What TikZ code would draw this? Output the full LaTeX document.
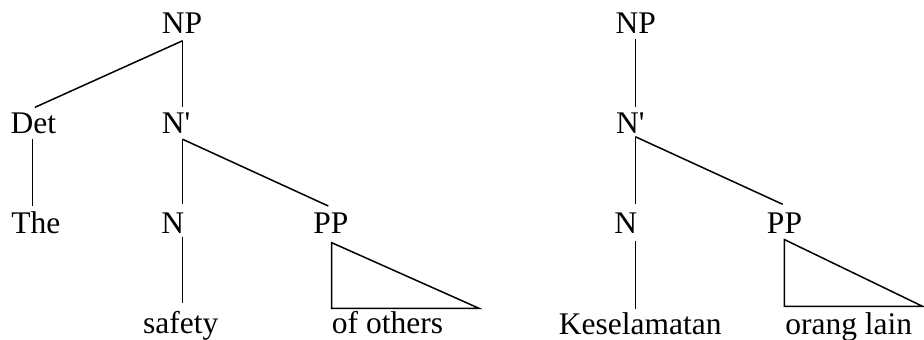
\documentclass[tikz,border=0pt]{standalone}
\usepackage{fontspec}
\setmainfont{Liberation Serif}
\begin{document}
\begin{tikzpicture}[x=1pt,y=-1pt,
  lbl/.style={anchor=base, inner sep=0pt, font=\fontsize{31.5}{36}\selectfont},
  br/.style={line width=1.5pt, line join=miter}]
\useasboundingbox (0,0) rectangle (924,340);
% ---------- left tree ----------
\node[lbl] (lnp)  at (182,33.3)   {NP};
\node[lbl] (ldet) at (33.3,133.3) {Det};
\node[lbl] (lnb)  at (176.2,133.3) {N\textquotesingle};
\node[lbl] (lthe) at (35.8,233.3) {The};
\node[lbl] (ln)   at (172.8,233.3) {N};
\node[lbl] (lpp)  at (330.8,233.3) {PP};
\node[lbl] (lsaf) at (180.8,333.3) {safety};
\node[lbl] (loth) at (387.5,333.3) {of others};
\coordinate (lnp-b)  at (182.7,40.7);
\coordinate (ldet-t) at (35,107.3);
\coordinate (lnb-t)  at (182.7,107.3);
\coordinate (ldet-b) at (32.3,139.3);
\coordinate (lthe-t) at (32.3,206);
\coordinate (lnb-b)  at (182.7,139.3);
\coordinate (ln-t)   at (182.7,204.3);
\coordinate (lpp-t)  at (328.3,206);
\coordinate (ln-b)   at (182.7,236.7);
\coordinate (lsaf-t) at (182.7,303.3);
\coordinate (ltri-a) at (331.7,242.7);
\coordinate (ltri-b) at (331.7,308.3);
\coordinate (ltri-c) at (479,308.3);
\draw[br] (lnp-b) -- (ldet-t);
\draw[br] (lnp-b) -- (lnb-t);
\draw[br] (ldet-b) -- (lthe-t);
\draw[br] (lnb-b) -- (ln-t);
\draw[br] (lnb-b) -- (lpp-t);
\draw[br] (ln-b) -- (lsaf-t);
\draw[br] (ltri-a) -- (ltri-b) -- (ltri-c) -- cycle;
% ---------- right tree ----------
\node[lbl] (rnp)  at (635.8,33.3)  {NP};
\node[lbl] (rnb)  at (630.3,133.3) {N\textquotesingle};
\node[lbl] (rn)   at (625.8,233.3) {N};
\node[lbl] (rpp)  at (784.5,233.3) {PP};
\node[lbl] (rkes) at (640.3,334) {Keselamatan};
\node[lbl] (rol)  at (848.7,334) {orang lain};
\coordinate (rnp-b)  at (635.3,39.3);
\coordinate (rnb-t)  at (635.3,107.3);
\coordinate (rnb-b)  at (635.3,136.7);
\coordinate (rn-t)   at (635.3,204.3);
\coordinate (rpp-t)  at (782.7,204.3);
\coordinate (rn-b)   at (635.3,240.7);
\coordinate (rkes-t) at (635.3,309.3);
\coordinate (rtri-a) at (784.3,239.5);
\coordinate (rtri-b) at (784.3,306.3);
\coordinate (rtri-c) at (922.5,306.3);
\draw[br] (rnp-b) -- (rnb-t);
\draw[br] (rnb-b) -- (rn-t);
\draw[br] (rnb-b) -- (rpp-t);
\draw[br] (rn-b) -- (rkes-t);
\draw[br] (rtri-a) -- (rtri-b) -- (rtri-c) -- cycle;
\end{tikzpicture}
\end{document}
